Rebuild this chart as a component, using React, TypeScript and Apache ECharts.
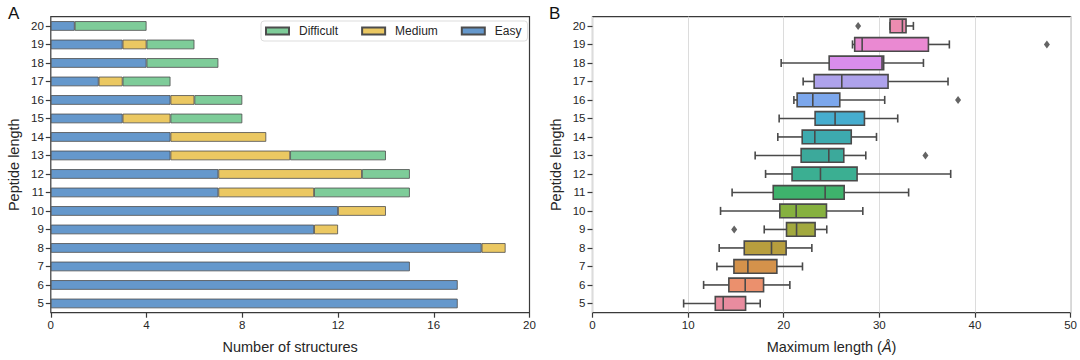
import React, { useEffect, useRef } from "react";
import * as echarts from "echarts";

// Peptide lengths (bottom to top)
const categories = ["5", "6", "7", "8", "9", "10", "11", "12", "13", "14", "15", "16", "17", "18", "19", "20"];

// Panel A: number of structures per difficulty
const easy = [17, 17, 15, 18, 11, 12, 7, 7, 5, 5, 3, 5, 2, 4, 3, 1];
const medium = [0, 0, 0, 1, 1, 2, 4, 6, 5, 4, 2, 1, 1, 0, 1, 0];
const difficult = [0, 0, 0, 0, 0, 0, 4, 2, 4, 0, 3, 2, 2, 3, 2, 3];

// Panel B: box plot statistics of maximum length (Å)
const lowWhisker = [9.53, 11.62, 13.01, 13.25, 17.96, 13.39, 14.6, 18.1, 17.01, 19.38, 19.52, 21.06, 22.03, 19.73, 27.19, 31.12];
const q1 = [12.84, 14.26, 14.79, 15.87, 20.29, 19.59, 18.9, 20.87, 21.82, 21.93, 23.28, 21.4, 23.18, 24.75, 27.42, 31.12];
const median = [13.67, 15.97, 16.25, 18.72, 21.34, 21.3, 24.33, 23.84, 24.71, 23.25, 25.37, 23.04, 26.07, 30.28, 28.2, 32.41];
const q3 = [16.01, 17.89, 19.28, 20.25, 23.28, 24.47, 26.32, 27.67, 26.28, 27.06, 28.44, 25.86, 30.91, 30.45, 35.13, 32.79];
const highWhisker = [17.54, 20.64, 21.96, 22.94, 24.5, 28.27, 33.06, 37.46, 28.58, 29.7, 31.92, 30.56, 37.18, 34.61, 37.32, 33.56];
const outlierCats = ["9", "13", "16", "19", "20"];
const outlierValues = [14.82, 34.82, 38.23, 47.52, 27.78];

const boxColors = [
  "#E98C9F", "#EB906D", "#D4924B", "#B79E3E", "#A2A93E", "#86B13F", "#3EB36C", "#3BAF92",
  "#3CA99B", "#3DAAAE", "#46ADCF", "#7CA7EC", "#AEA2EC", "#D98DEC", "#EA89D2", "#EC8CB0",
];

const xTicksA = [0, 4, 8, 12, 16, 20];
const xTicksB = [0, 10, 20, 30, 40, 50];

const FONT = "'Liberation Sans', Arial, Helvetica, sans-serif";
const TEXT = "#262626";
const FRAME = "#3a3a3a";
const BOXLINE = "#4a4a4a";

export default function App() {
  const ref = useRef<HTMLDivElement>(null);

  useEffect(() => {
    if (!ref.current) return;
    const chart = echarts.init(ref.current, null, { renderer: "svg" });

    const z = (v: number) => (v === 0 ? "-" : v);
    const barEdge = { borderColor: "#4d4d4d", borderWidth: 0.8 };

    const catAxis = (gridIndex: number) => ({
      type: "category",
      gridIndex,
      data: categories,
      boundaryGap: true,
      name: "Peptide length",
      nameLocation: "middle",
      nameGap: 29,
      nameTextStyle: { fontFamily: FONT, fontSize: 14.5, color: TEXT },
      axisLine: { show: false },
      axisTick: { show: true, alignWithLabel: true, length: 5, lineStyle: { color: FRAME, width: 1.2 } },
      axisLabel: { fontFamily: FONT, fontSize: 11.5, color: TEXT, margin: 7 },
      splitLine: { show: false },
    });

    const option: any = {
      animation: false,
      textStyle: { fontFamily: FONT },
      grid: [
        { left: 50.8, top: 16.7, width: 478.7, height: 296, show: true, borderColor: FRAME, borderWidth: 1.2, backgroundColor: "transparent" },
        { left: 592.5, top: 16.7, width: 478.5, height: 296, show: true, borderColor: FRAME, borderWidth: 1.2, backgroundColor: "transparent" },
      ],
      legend: {
        data: ["Difficult", "Medium", "Easy"],
        left: 261,
        top: 21,
        orient: "horizontal",
        itemWidth: 23,
        itemHeight: 7,
        itemGap: 23,
        padding: [4, 6, 4, 4],
        backgroundColor: "#ffffff",
        borderColor: "#dddddd",
        borderWidth: 1,
        borderRadius: 3,
        icon: "rect",
        textStyle: { fontFamily: FONT, fontSize: 12, color: TEXT, padding: [0, 0, 0, 5] },
      },
      xAxis: [
        {
          type: "value",
          gridIndex: 0,
          min: 0,
          max: 20,
          interval: 4,
          name: "Number of structures",
          nameLocation: "middle",
          nameGap: 27,
          nameTextStyle: { fontFamily: FONT, fontSize: 14.5, color: TEXT },
          axisLine: { show: false },
          axisTick: { show: true, length: 5, lineStyle: { color: FRAME, width: 1.2 } },
          axisLabel: {
            fontFamily: FONT, fontSize: 11.5, color: TEXT, margin: 6,
            formatter: (v: number) => (xTicksA.includes(v) ? String(v) : ""),
          },
          splitLine: { show: false },
        },
        {
          type: "value",
          gridIndex: 1,
          min: 0,
          max: 50,
          interval: 10,
          name: "Maximum length ({i|Å})",
          nameLocation: "middle",
          nameGap: 27,
          nameTextStyle: {
            fontFamily: FONT, fontSize: 14.5, color: TEXT,
            rich: { i: { fontFamily: FONT, fontSize: 14.5, color: TEXT, fontStyle: "italic" } },
          },
          axisLine: { show: false },
          axisTick: { show: true, length: 5, lineStyle: { color: FRAME, width: 1.2 } },
          axisLabel: {
            fontFamily: FONT, fontSize: 11.5, color: TEXT, margin: 6,
            formatter: (v: number) => (xTicksB.includes(v) ? String(v) : ""),
          },
          splitLine: { show: true, lineStyle: { color: "#dcdcdc", width: 1 } },
        },
      ],
      yAxis: [catAxis(0), catAxis(1)],
      series: [
        {
          name: "Easy", type: "bar", stack: "total", xAxisIndex: 0, yAxisIndex: 0,
          barWidth: "52%", data: easy.map(z),
          itemStyle: { color: "#6598CC", ...barEdge },
        },
        {
          name: "Medium", type: "bar", stack: "total", xAxisIndex: 0, yAxisIndex: 0,
          barWidth: "52%", data: medium.map(z),
          itemStyle: { color: "#EBC862", ...barEdge },
        },
        {
          name: "Difficult", type: "bar", stack: "total", xAxisIndex: 0, yAxisIndex: 0,
          barWidth: "52%", data: difficult.map(z),
          itemStyle: { color: "#7ECC99", ...barEdge },
        },
        {
          type: "custom",
          xAxisIndex: 1,
          yAxisIndex: 1,
          encode: { x: [1, 2, 3, 4, 5], y: 0 },
          data: categories.map((c, i) => [i, lowWhisker[i], q1[i], median[i], q3[i], highWhisker[i]]),
          renderItem: (params: any, api: any) => {
            const cat = api.value(0);
            const pL = api.coord([api.value(1), cat]);
            const p1 = api.coord([api.value(2), cat]);
            const pM = api.coord([api.value(3), cat]);
            const p3 = api.coord([api.value(4), cat]);
            const pH = api.coord([api.value(5), cat]);
            const band = api.size([0, 1])[1];
            const hb = band * 0.37;
            const hc = band * 0.22;
            const y = pL[1];
            const ls = { stroke: BOXLINE, lineWidth: 1.6 };
            return {
              type: "group",
              children: [
                { type: "line", shape: { x1: pL[0], y1: y, x2: p1[0], y2: y }, style: ls },
                { type: "line", shape: { x1: p3[0], y1: y, x2: pH[0], y2: y }, style: ls },
                { type: "line", shape: { x1: pL[0], y1: y - hc, x2: pL[0], y2: y + hc }, style: ls },
                { type: "line", shape: { x1: pH[0], y1: y - hc, x2: pH[0], y2: y + hc }, style: ls },
                {
                  type: "rect",
                  shape: { x: p1[0], y: y - hb, width: p3[0] - p1[0], height: 2 * hb },
                  style: { fill: boxColors[params.dataIndex], stroke: BOXLINE, lineWidth: 1.6 },
                },
                { type: "line", shape: { x1: pM[0], y1: y - hb, x2: pM[0], y2: y + hb }, style: ls },
              ],
            };
          },
        },
        {
          type: "scatter",
          xAxisIndex: 1,
          yAxisIndex: 1,
          symbol: "diamond",
          symbolSize: [6, 8],
          itemStyle: { color: "#3d3d3d" },
          data: outlierCats.map((c, i) => [outlierValues[i], categories.indexOf(c)]),
        },
      ],
      graphic: [
        { type: "text", left: 8, top: 5, style: { text: "A", fontFamily: FONT, fontSize: 17, fill: "#111" } },
        { type: "text", left: 549, top: 5, style: { text: "B", fontFamily: FONT, fontSize: 17, fill: "#111" } },
      ],
    };

    chart.setOption(option);
    return () => chart.dispose();
  }, []);

  return (
    <div
      ref={ref}
      style={{ position: "fixed", left: 0, top: 0, width: 1080, height: 360, background: "#ffffff" }}
    />
  );
}
